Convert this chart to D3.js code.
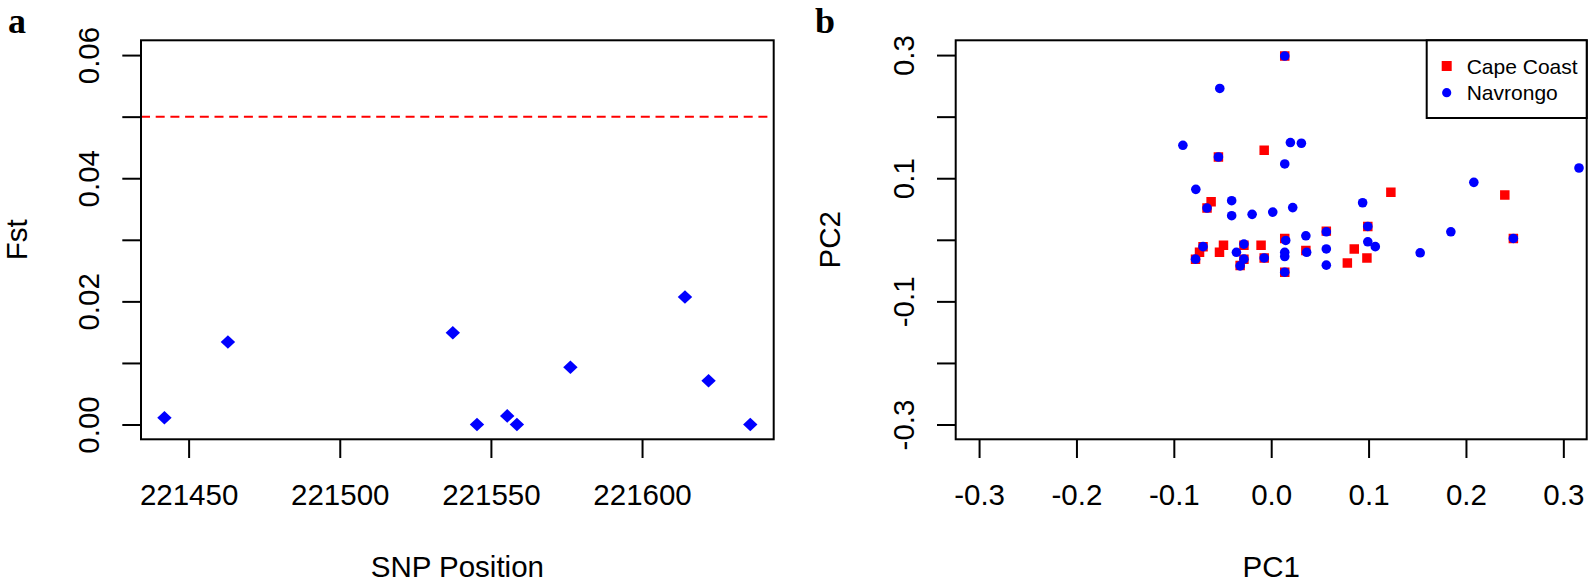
<!DOCTYPE html>
<html>
<head>
<meta charset="utf-8">
<script src="https://cdn.jsdelivr.net/npm/d3@7"></script>
<style>
  body { margin: 0; background: #fff; }
  svg { display: block; }
  text { font-family: "Liberation Sans", Arial, sans-serif; fill: #000; }
</style>
</head>
<body>
<svg id="chart" width="1592" height="582"></svg>
<script>
// ---------- Panel a data ----------
const snpPosition = [221442, 221463, 221537.4, 221545.4, 221555.4, 221558.6, 221576.3, 221614.2, 221622, 221635.8];
const fstValues   = [0.0011, 0.0134, 0.0149, 0.0000, 0.0014, 0.0000, 0.0093, 0.0207, 0.0071, 0.0000];
const fstThreshold = 0.05;
const fstTicks = [0, 0.01, 0.02, 0.03, 0.04, 0.05, 0.06];
const fstTickLabels = ["0.00", "", "0.02", "", "0.04", "", "0.06"];
const snpTicks = [221450, 221500, 221550, 221600];

// ---------- Panel b data ----------
const capeCoastPC1 = [0.0139, -0.0542, -0.0072, 0.1229, 0.2399, -0.0617, -0.0659, 0.0992, 0.0566, 0.0139,
                      -0.0280, -0.0700, -0.0736, -0.0490, -0.0531, -0.0104, 0.2487, 0.0356, 0.0853, -0.0777,
                      -0.0280, -0.0072, -0.0319, 0.0782, 0.0983, 0.0139];
const capeCoastPC2 = [0.2984, 0.1345, 0.1454, 0.0771, 0.0727, 0.0619, 0.0516, 0.0217, 0.0141, 0.0022,
                      -0.0089, -0.0111, -0.0203, -0.0089, -0.0203, -0.0089, 0.0022, -0.0173, -0.0149, -0.0314,
                      -0.0314, -0.0295, -0.0418, -0.0377, -0.0295, -0.0526];
const navrongoPC1 = [0.0139, -0.0528, -0.0907, -0.0542, 0.0197, 0.0310, 0.0139, -0.0774, -0.0659, -0.0406,
                     -0.0406, -0.0196, 0.0016, 0.0221, 0.0939, 0.2081, 0.0992, 0.0566, 0.0356, 0.0149,
                     -0.0280, -0.0700, 0.0992, 0.1069, 0.1845, 0.2487, -0.0357, 0.0139, 0.0364, 0.0566,
                     0.1530, -0.0777, -0.0280, -0.0072, 0.0139, -0.0319, 0.0566, 0.0139, 0.3161];
const navrongoPC2 = [0.2984, 0.2458, 0.1535, 0.1345, 0.1579, 0.1568, 0.1232, 0.0819, 0.0516, 0.0635,
                     0.0391, 0.0413, 0.0450, 0.0523, 0.0602, 0.0933, 0.0217, 0.0130, 0.0065, -0.0011,
                     -0.0070, -0.0111, -0.0032, -0.0111, 0.0130, 0.0022, -0.0203, -0.0203, -0.0203, -0.0149,
                     -0.0211, -0.0314, -0.0314, -0.0295, -0.0271, -0.0423, -0.0412, -0.0526, 0.1166];
const pcTicks = [-0.3, -0.2, -0.1, 0, 0.1, 0.2, 0.3];
const pc1TickLabels = ["-0.3", "-0.2", "-0.1", "0.0", "0.1", "0.2", "0.3"];
const pc2TickLabels = ["-0.3", "", "-0.1", "", "0.1", "", "0.3"];
const legendLabels = ["Cape Coast", "Navrongo"];

// ---------- Layout ----------
const svg = d3.select("#chart");
const FS = 29.5;
const TICK = 18.7;
const boxA = {l: 141, r: 773.7, t: 40.3, b: 439.3};
const boxB = {l: 955.7, r: 1586.7, t: 40.3, b: 439.3};

function pad(lo, hi) { const p = (hi - lo) * 0.04; return [lo - p, hi + p]; }

const xA = d3.scaleLinear().domain(pad(...d3.extent(snpPosition))).range([boxA.l, boxA.r]);
const yA = d3.scaleLinear().domain(pad(0, 0.06)).range([boxA.b, boxA.t]);
const xB = d3.scaleLinear().domain(pad(-0.3, 0.3)).range([boxB.l, boxB.r]);
const yB = d3.scaleLinear().domain(pad(-0.3, 0.3)).range([boxB.b, boxB.t]);

function drawAxes(box, xs, ys, xticks, xlabels, yticks, ylabels) {
  const gx = svg.append("g").attr("transform", `translate(0,${box.b})`)
    .call(d3.axisBottom(xs).tickValues(xticks).tickSize(TICK).tickSizeOuter(0)
      .tickFormat((d, i) => xlabels[i]));
  gx.select(".domain").remove();
  gx.selectAll(".tick line").attr("stroke", "#000").attr("stroke-width", 2);
  gx.selectAll(".tick text").attr("y", 65.7).attr("dy", 0)
    .style("font-size", FS + "px").style("font-family", '"Liberation Sans", Arial, sans-serif');

  const gy = svg.append("g").attr("transform", `translate(${box.l},0)`)
    .call(d3.axisLeft(ys).tickValues(yticks).tickSize(TICK).tickSizeOuter(0)
      .tickFormat((d, i) => ylabels[i]));
  gy.select(".domain").remove();
  gy.selectAll(".tick line").attr("stroke", "#000").attr("stroke-width", 2);
  gy.selectAll(".tick text").attr("x", null).attr("dy", 0)
    .attr("text-anchor", "middle")
    .attr("transform", "translate(-41.8,0) rotate(-90)")
    .style("font-size", FS + "px").style("font-family", '"Liberation Sans", Arial, sans-serif');

  svg.append("rect").attr("x", box.l).attr("y", box.t)
    .attr("width", box.r - box.l).attr("height", box.b - box.t)
    .attr("fill", "none").attr("stroke", "#000").attr("stroke-width", 2);
}

// ---------- Panel a ----------
svg.append("line")
  .attr("x1", boxA.l).attr("x2", boxA.r)
  .attr("y1", yA(fstThreshold)).attr("y2", yA(fstThreshold))
  .attr("stroke", "#ff0000").attr("stroke-width", 2).attr("stroke-dasharray", "9,5.7");

const diamond = "M0,-6.8L7.2,0L0,6.8L-7.2,0Z";
svg.append("g").selectAll("path").data(snpPosition).join("path")
  .attr("d", diamond)
  .attr("transform", (d, i) => `translate(${xA(d)},${yA(fstValues[i])})`)
  .attr("fill", "#0000ff");

drawAxes(boxA, xA, yA, snpTicks, snpTicks.map(String), fstTicks, fstTickLabels);

svg.append("text").attr("x", (boxA.l + boxA.r) / 2).attr("y", 577)
  .attr("text-anchor", "middle").style("font-size", FS + "px").text("SNP Position");
svg.append("text").attr("transform", `translate(27,${(boxA.t + boxA.b) / 2}) rotate(-90)`)
  .attr("text-anchor", "middle").style("font-size", FS + "px").text("Fst");
svg.append("text").attr("x", 8).attr("y", 33)
  .style("font-family", '"Liberation Serif", "Times New Roman", serif')
  .style("font-weight", "bold").style("font-size", "36px").text("a");

// ---------- Panel b ----------
svg.append("clipPath").attr("id", "clipB").append("rect")
  .attr("x", boxB.l).attr("y", boxB.t).attr("width", boxB.r - boxB.l).attr("height", boxB.b - boxB.t);

const gPts = svg.append("g").attr("clip-path", "url(#clipB)");
const sq = d3.symbol().type(d3.symbolSquare).size(90);
gPts.append("g").selectAll("path").data(capeCoastPC1).join("path")
  .attr("d", sq)
  .attr("transform", (d, i) => `translate(${xB(d)},${yB(capeCoastPC2[i])})`)
  .attr("fill", "#ff0000");
gPts.append("g").selectAll("circle").data(navrongoPC1).join("circle")
  .attr("cx", d => xB(d)).attr("cy", (d, i) => yB(navrongoPC2[i]))
  .attr("r", 4.8).attr("fill", "#0000ff");

drawAxes(boxB, xB, yB, pcTicks, pc1TickLabels, pcTicks, pc2TickLabels);

svg.append("text").attr("x", (boxB.l + boxB.r) / 2).attr("y", 577)
  .attr("text-anchor", "middle").style("font-size", FS + "px").text("PC1");
svg.append("text").attr("transform", `translate(840,${(boxB.t + boxB.b) / 2}) rotate(-90)`)
  .attr("text-anchor", "middle").style("font-size", FS + "px").text("PC2");
svg.append("text").attr("x", 815).attr("y", 33)
  .style("font-family", '"Liberation Serif", "Times New Roman", serif')
  .style("font-weight", "bold").style("font-size", "36px").text("b");

// legend
const leg = svg.append("g");
leg.append("rect").attr("x", 1426.7).attr("y", boxB.t).attr("width", boxB.r - 1426.7).attr("height", 118 - boxB.t)
  .attr("fill", "#fff").attr("stroke", "#000").attr("stroke-width", 2);
leg.append("path").attr("d", d3.symbol().type(d3.symbolSquare).size(100))
  .attr("transform", "translate(1446.7,66)").attr("fill", "#ff0000");
leg.append("circle").attr("cx", 1446.7).attr("cy", 92.7).attr("r", 4.6).attr("fill", "#0000ff");
leg.selectAll("text").data(legendLabels).join("text")
  .attr("x", 1466.7).attr("y", (d, i) => 73.6 + i * 26.7)
  .style("font-size", "21px").text(d => d);
</script>
</body>
</html>
